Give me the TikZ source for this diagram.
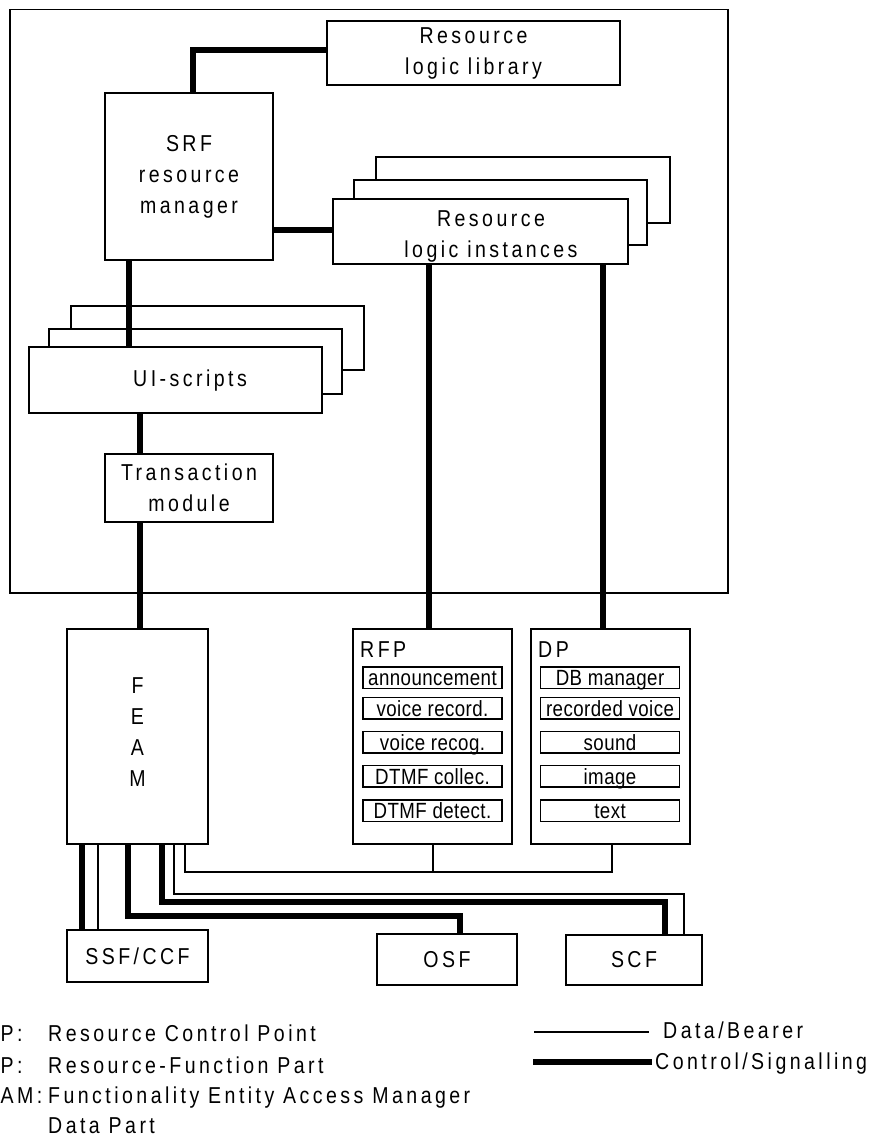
\documentclass[tikz,border=0pt]{standalone}
\usepackage{fontspec}
\setmainfont{Liberation Sans}[FakeStretch=0.85,LetterSpace=15]
\newfontfamily\innerfont{Liberation Sans}[FakeStretch=0.85,LetterSpace=2]
\usetikzlibrary{fit}
\begin{document}
\begin{tikzpicture}[x=1pt,y=-1pt,
  box/.style={draw, line width=1.3pt, fill=white, inner sep=0pt},
  big/.style={font=\fontsize{23}{31}\selectfont, align=center, inner sep=0pt},
  ctrl/.style={line width=5.5pt},
  data/.style={line width=1.4pt},
  innerbox/.style={box, minimum width=139pt, minimum height=21.5pt,
    font=\innerfont\fontsize{22}{25}\selectfont, text height=16pt, text depth=0pt}
]
\useasboundingbox (0,0) rectangle (874,1137);

% outer frame
\node[box, fill=none, fit={(10,9.5) (728,593)}] (outer) {};

% resource logic library
\node[box, fit={(327,21) (620,85)}] (lib) {};
\node[big] (libtxt) at (lib.center) {Resource\\logic library};
% SRF resource manager
\node[box, fit={(105,93) (273,260)}] (srf) {};
\node[big] (srftxt) at (srf.center) {SRF\\resource\\manager};
% resource logic instances stack
\node[box, fit={(376,157) (670,223)}] (rli3) {};
\node[box, fit={(354,180) (647,245)}] (rli2) {};
\node[box, fit={(333,199) (628,264)}] (rli) {};
\node[big] (rlitxt) at (491,236) {Resource\\logic instances};
% UI-scripts stack
\node[box, fit={(71,306) (364,370)}] (ui3) {};
\node[box, fit={(49,329) (342,394)}] (ui2) {};
\node[box, fit={(29,347) (322,413)}] (ui) {};
\node[big] (uitxt) at (190,381) {UI-scripts};
% transaction module
\node[box, fit={(105,454) (273,522)}] (trans) {};
\node[big] (transtxt) at (trans.center) {Transaction\\module};

% FEAM, RFP, DP
\node[box, fit={(67,629) (208,844)}] (feam) {};
\node[big] (feamtxt) at (137.5,732.5) {F\\E\\A\\M};
\node[box, fit={(353,629) (512,844)}] (rfp) {};
\node[box, fit={(531,629) (690,844)}] (dp) {};
\node[big, anchor=base west] (rfpt) at (360,657) {RFP};
\node[big, anchor=base west] (dpt) at (538,657) {DP};

\node[innerbox] (r1) at (432.5,677.8) {announcement};
\node[innerbox] (r2) at (432.5,708.2) {voice record.};
\node[innerbox] (r3) at (432.5,742.2) {voice recog.};
\node[innerbox] (r4) at (432.5,776.2) {DTMF collec.};
\node[innerbox] (r5) at (432.5,810.8) {DTMF detect.};

\node[innerbox] (d1) at (610,677.8) {DB manager};
\node[innerbox] (d2) at (610,708.2) {recorded voice};
\node[innerbox] (d3) at (610,742.2) {sound};
\node[innerbox] (d4) at (610,776.2) {image};
\node[innerbox] (d5) at (610,810.8) {text};

% bottom boxes
\node[box, fit={(67,930) (208,982)}] (ssf) {};
\node[big] (ssftxt) at (ssf.center) {SSF/CCF};
\node[box, fit={(377,934) (517,985)}] (osf) {};
\node[big] (osftxt) at (osf.center) {OSF};
\node[box, fit={(566,935) (702,985)}] (scf) {};
\node[big] (scftxt) at (scf.center) {SCF};

% connectors inside frame
\draw[ctrl] (193,0 |- srf.north) |- (lib.west |- 0,50);
\draw[ctrl] (srf.east |- 0,230) -- (rli.west |- 0,230);
\draw[ctrl] (129,0 |- srf.south) -- (129,0 |- ui.north);
\draw[ctrl] (140,0 |- ui.south) -- (140,0 |- trans.north);
\draw[ctrl] (140,0 |- trans.south) -- (140,0 |- feam.north);
\draw[ctrl] (429,0 |- rli.south) -- (429,0 |- rfp.north);
\draw[ctrl] (603,0 |- rli.south) -- (603,0 |- dp.north);

% connectors below FEAM
\draw[ctrl] (82,0 |- feam.south) -- (82,0 |- ssf.north);
\draw[data] (98,0 |- feam.south) -- (98,0 |- ssf.north);
\draw[ctrl] (128,0 |- feam.south) -- (128,916) -| (460,0 |- osf.north);
\draw[ctrl] (162,0 |- feam.south) -- (162,902) -| (665,0 |- scf.north);
\draw[data] (174,0 |- feam.south) -- (174,894) -| (684,0 |- scf.north);
\draw[data] (185,0 |- feam.south) -- (185,872) -| (612,0 |- dp.south);
\draw[data] (433,0 |- rfp.south) -- (433,872);

% legend
\node[big, anchor=base west] (k1) at (0.5,1041.7) {P:};
\node[big, anchor=base west] (k2) at (0.5,1073) {P:};
\node[big, anchor=base west] (k3) at (0.5,1103) {AM:};
\node[big, anchor=base west] (t1) at (48,1041.7) {Resource Control Point};
\node[big, anchor=base west] (t2) at (48,1073) {Resource-Function Part};
\node[big, anchor=base west] (t3) at (48,1103) {Functionality Entity Access Manager};
\node[big, anchor=base west] (t4) at (48,1133) {Data Part};

\coordinate (ld1) at (534,1032);
\coordinate (ld2) at (649,1032);
\coordinate (lc1) at (533,1062);
\coordinate (lc2) at (652,1062);
\draw[data] (ld1) -- (ld2);
\draw[ctrl] (lc1) -- (lc2);
\node[big, anchor=base west] (ltd) at (663,1038) {Data/Bearer};
\node[big, anchor=base west] (ltc) at (655,1069) {Control/Signalling};
\end{tikzpicture}
\end{document}
